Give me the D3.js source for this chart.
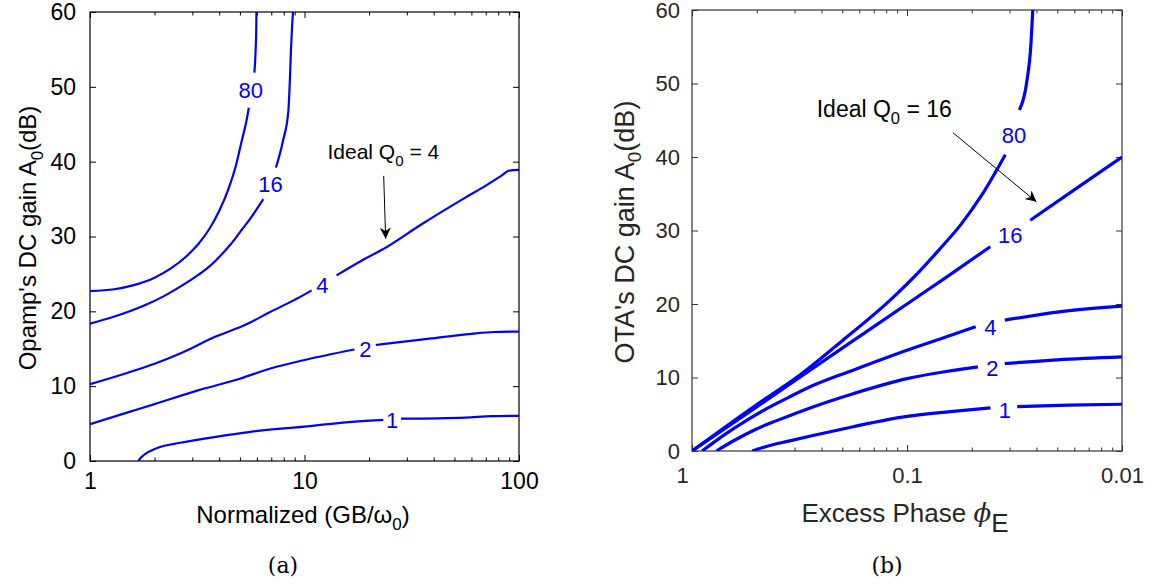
<!DOCTYPE html>
<html><head><meta charset="utf-8">
<script src="https://cdn.jsdelivr.net/npm/d3@7"></script>
<style>body{margin:0;background:#fff} svg{display:block}</style>
</head><body>
<svg id="c" width="1158" height="584"></svg>
<script>
// ---------- DATA ----------
// Panel (a): x = GB/w0 (log), y = A0 (dB); null = gap for contour label
const leftQ80 = [[1,22.7],[1.3,22.95],[1.6,23.5],[2.0,24.5],[2.4,25.8],[2.8,27.3],[3.2,29.0],[3.6,31.0],[4.0,33.4],[4.4,36.2],[4.8,39.6],[5.1,42.8],[5.35,45.3],[5.5,47.2],null,[5.84,51.9],[5.92,55.0],[5.96,58.0],[5.97,60]];
const leftQ16 = [[1,18.36],[1.3,19.3],[1.8,20.8],[2.2,22.0],[2.6,23.2],[3.1,24.6],[3.5,25.7],[3.83,26.7],[4.2,27.9],[4.54,29.0],[5.1,30.9],[5.62,32.5],[6.0,33.7],[6.43,35.0],null,[7.36,39.2],[7.94,42.8],[8.41,46.8],[8.55,51.0],[8.65,55.0],[8.75,58.0],[8.84,60]];
const leftQ4  = [[1,10.27],[1.5,11.8],[2,13.0],[2.65,14.4],[3.83,16.6],[5.4,18.3],[6.8,19.8],[9.5,21.9],[10.8,22.8],null,[14.1,24.8],[18,26.6],[24.2,28.6],[35,31.6],[56.2,35.2],[70,36.8],[82.5,38.1],[90,38.8],[100,38.9]];
const leftQ2  = [[1,4.93],[1.5,6.5],[2,7.6],[3.16,9.4],[5,11.0],[7,12.4],[10,13.5],[17.1,14.9],null,[21.5,15.5],[38.3,16.36],[60,17.0],[76.4,17.24],[100,17.3]];
const leftQ1  = [[1.68,0],[1.72,0.4],[1.82,1.0],[2.0,1.6],[2.2,2.0],[2.6,2.4],[3.8,3.2],[5.6,3.9],[10,4.6],[14.7,5.1],[23.3,5.5],null,[28.2,5.65],[56,5.8],[75,6.0],[100,6.04]];
const leftLabels = [["80",5.62,49.5],["16",6.95,37.0],["4",12.1,23.5],["2",19.2,15.0],["1",25.6,5.5]];

// Panel (b): x = excess phase phi_E (log, reversed), y = A0 (dB)
const rightQ80 = [[1,0],[0.501,6.3],[0.316,10.3],[0.2,15.0],[0.118,20.7],[0.0891,24.2],[0.0708,27.4],[0.0562,30.8],[0.0447,34.9],[0.0349,40.3],null,[0.030,46.4],[0.0278,50.0],[0.0265,55.5],[0.026,60]];
const rightQ16 = [[1,0],[0.5,6.0],[0.2,14.0],[0.1,20.0],[0.063,24.0],[0.041,27.8],null,[0.0267,31.4],[0.0158,36.0],[0.01,40.0]];
const rightQ4  = [[0.897,0],[0.708,2.2],[0.562,4.1],[0.447,5.8],[0.355,7.3],[0.274,8.9],[0.178,11.0],[0.1,13.7],[0.063,15.7],[0.0479,16.9],null,[0.0351,17.8],[0.02,18.9],[0.01,19.7]];
const rightQ2  = [[0.771,0],[0.631,1.5],[0.501,3.0],[0.398,4.2],[0.274,6.0],[0.178,7.8],[0.1,9.85],[0.063,10.9],[0.0468,11.44],null,[0.0351,11.9],[0.02,12.4],[0.01,12.8]];
const rightQ1  = [[0.525,0],[0.447,0.65],[0.355,1.35],[0.274,2.1],[0.178,3.3],[0.126,4.2],[0.1,4.7],[0.063,5.35],[0.0409,5.86],null,[0.0307,6.05],[0.0178,6.25],[0.01,6.36]];
const rightLabels = [["80",0.0318,43.0],["16",0.0331,29.4],["4",0.0409,16.9],["2",0.0401,11.3],["1",0.0351,5.5]];

const yTicks = [0,10,20,30,40,50,60];
const leftXTicks = [1,10,100];
const leftXTickLabels = ["1","10","100"];
const rightXTicks = [1,0.1,0.01];
const rightXTickLabels = ["1","0.1","0.01"];

// ---------- DRAW ----------
const SANS = "'Liberation Sans', Arial, Helvetica, sans-serif";
const SERIF = "'DejaVu Serif','Liberation Serif',serif";
const svg = d3.select('#c');
const defs = svg.append('defs');
defs.append('marker').attr('id','ah').attr('viewBox','0 0 10 10').attr('refX',10).attr('refY',5)
  .attr('markerWidth',16).attr('markerHeight',11).attr('markerUnits','userSpaceOnUse').attr('orient','auto')
  .append('path').attr('d','M0,0 L10,5 L0,10 L3,5 Z').attr('fill','#000');

function panel(cfg){
  const g = svg.append('g');
  const x = d3.scaleLog().domain(cfg.xDomain).range([cfg.x0,cfg.x1]);
  const y = d3.scaleLinear().domain([0,60]).range([cfg.y1,cfg.y0]);
  const col = cfg.axisColor;
  g.append('rect').attr('x',cfg.x0).attr('y',cfg.y0).attr('width',cfg.x1-cfg.x0).attr('height',cfg.y1-cfg.y0)
    .attr('fill','none').attr('stroke',col).attr('stroke-width',1.2);
  const style = sel => { sel.select('.domain').remove(); sel.selectAll('line').attr('stroke',col);
    sel.selectAll('text').attr('font-family',SANS).attr('font-size',cfg.tickFont).attr('fill',cfg.textColor); };
  const minors = cfg.minor;
  g.append('g').attr('transform',`translate(0,${cfg.y1})`).call(d3.axisBottom(x).tickValues(minors).tickSize(-3.5).tickFormat('')).call(style);
  g.append('g').attr('transform',`translate(0,${cfg.y0})`).call(d3.axisTop(x).tickValues(minors).tickSize(-3.5).tickFormat('')).call(style);
  const xb = g.append('g').attr('transform',`translate(0,${cfg.y1})`)
    .call(d3.axisBottom(x).tickValues(cfg.xTicks).tickSize(-6).tickPadding(cfg.xPad).tickFormat((d,i)=>cfg.xTickLabels[i])).call(style);
  if (cfg.firstLabelDx) xb.selectAll('text').filter((d,i)=>i===0).attr('dx',cfg.firstLabelDx);
  g.append('g').attr('transform',`translate(0,${cfg.y0})`).call(d3.axisTop(x).tickValues(cfg.xTicks).tickSize(-6).tickFormat('')).call(style);
  g.append('g').attr('transform',`translate(${cfg.x0},0)`).call(d3.axisLeft(y).tickValues(yTicks).tickSize(-6).tickPadding(cfg.yPad)).call(style);
  g.append('g').attr('transform',`translate(${cfg.x1},0)`).call(d3.axisRight(y).tickValues(yTicks).tickSize(-6).tickFormat('')).call(style);

  const clipId = 'clip'+cfg.id;
  defs.append('clipPath').attr('id',clipId).append('rect').attr('x',cfg.x0).attr('y',cfg.y0-1).attr('width',cfg.x1-cfg.x0).attr('height',cfg.y1-cfg.y0+1);
  const cg = g.append('g').attr('clip-path',`url(#${clipId})`);
  const line = d3.line().defined(d=>d!==null).x(d=>x(d[0])).y(d=>y(d[1])).curve(d3.curveMonotoneX);
  cfg.series.forEach(s=>{
    cg.append('path').attr('d',line(s))
      .attr('fill','none').attr('stroke','#0000ff').attr('stroke-width',cfg.lw).attr('stroke-linejoin','round').attr('stroke-linecap','butt');
  });
  cfg.labels.forEach(l=>{
    g.append('text').attr('x',x(l[1])).attr('y',y(l[2])).attr('dy','0.36em').attr('text-anchor','middle')
      .attr('font-family',SANS).attr('font-size',22).attr('fill','#0000ff').text(l[0]);
  });
  const a = cfg.annot;
  const t = g.append('text').attr('x',x(a.tx)).attr('y',y(a.ty)).attr('font-family',SANS).attr('font-size',a.fs).attr('fill','#000');
  t.append('tspan').text('Ideal Q');
  t.append('tspan').attr('font-size',a.fs*0.72).attr('dy',7).text('0');
  t.append('tspan').attr('dy',-7).text(' = '+a.q);
  g.append('line').attr('x1',x(a.from[0])).attr('y1',y(a.from[1])).attr('x2',x(a.to[0])).attr('y2',y(a.to[1]))
    .attr('stroke','#000').attr('stroke-width',1).attr('marker-end','url(#ah)');
  const yl = g.append('text').attr('transform',`translate(${cfg.ylx},${cfg.yly}) rotate(-90)`)
    .attr('text-anchor','middle').attr('font-family',SANS).attr('font-size',cfg.labFont).attr('fill',cfg.textColor);
  yl.append('tspan').text(cfg.yLabel);
  yl.append('tspan').attr('font-size',cfg.labFont*0.7).attr('dy',7).text('0');
  yl.append('tspan').attr('dy',-7).text('(dB)');
  return {g,x,y};
}

const minorL = [2,3,4,5,6,7,8,9,20,30,40,50,60,70,80,90];
const minorR = [2,3,4,5,6,7,8,9,20,30,40,50,60,70,80,90].map(k=>1/k);

panel({id:'a', xDomain:[1,100], x0:90, x1:519, y0:12, y1:461, axisColor:'#000', textColor:'#000',
  minor:minorL, xTicks:leftXTicks, xTickLabels:leftXTickLabels, lw:2.2, tickFont:23, xPad:12, yPad:14,
  series:[leftQ80,leftQ16,leftQ4,leftQ2,leftQ1], labels:leftLabels,
  annot:{tx:12.8, ty:40.4, q:'4', from:[23.4,38.1], to:[23.9,29.7], fs:21},
  ylx:36, yly:238, labFont:24, yLabel:"Opamp's DC gain A"});
panel({id:'b', xDomain:[1,0.01], x0:692, x1:1122, y0:10, y1:451, axisColor:'#333', textColor:'#262626',
  minor:minorR, xTicks:rightXTicks, xTickLabels:rightXTickLabels, lw:3.2, firstLabelDx:-10, tickFont:22, xPad:16, yPad:12,
  series:[rightQ80,rightQ16,rightQ4,rightQ2,rightQ1], labels:rightLabels,
  annot:{tx:0.263, ty:45.5, q:'16', fs:23, from:[0.0611,43.3], to:[0.025,33.9]},
  ylx:634, yly:232, labFont:27, yLabel:"OTA's DC gain A"});

const xl1 = svg.append('text').attr('x',303).attr('y',523).attr('text-anchor','middle').attr('font-family',SANS).attr('font-size',24).attr('fill','#000');
xl1.append('tspan').text('Normalized (GB/ω');
xl1.append('tspan').attr('font-size',17).attr('dy',7).text('0');
xl1.append('tspan').attr('dy',-7).text(')');
const xl2 = svg.append('text').attr('x',905).attr('y',522).attr('text-anchor','middle').attr('font-family',SANS).attr('font-size',26).attr('fill','#262626');
xl2.append('tspan').text('Excess Phase ');
xl2.append('tspan').attr('font-family',"'DejaVu Serif', serif").attr('font-style','italic').text('ϕ');
xl2.append('tspan').attr('dy',10).text('E');

svg.append('text').attr('x',283).attr('y',573).attr('text-anchor','middle').attr('font-family',SERIF).attr('font-size',22).text('(a)');
svg.append('text').attr('x',887).attr('y',573).attr('text-anchor','middle').attr('font-family',SERIF).attr('font-size',22).text('(b)');
</script>
</body></html>
